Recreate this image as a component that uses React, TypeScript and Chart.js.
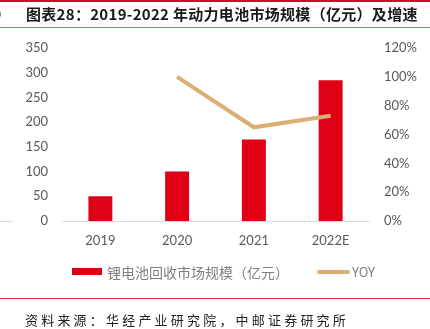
import React, { useEffect, useRef } from "react";
import { Chart, registerables } from "chart.js";

Chart.register(...registerables);

const categories = ["2019", "2020", "2021", "2022E"];
const marketSize = [50, 100, 165, 285];
const yoyPercent = [null, 100, 65, 73];
const leftMax = 350;
const leftStep = 50;
const rightMax = 120;
const rightStep = 20;

const titleText = "图表28：2019-2022 年动力电池市场规模（亿元）及增速";
const sourceText = "资料来源：华经产业研究院，中邮证券研究所";
const barLabel = "锂电池回收市场规模（亿元）";
const lineLabel = "YOY";

const RED = "#E00016";
const TAN = "#DDAE74";
const TICK = "#595959";

export default function App() {
  const ref = useRef<HTMLCanvasElement | null>(null);

  useEffect(() => {
    document.body.style.margin = "0";
    const canvas = ref.current;
    if (!canvas) return;
    const chart = new Chart(canvas, {
      type: "bar",
      data: {
        labels: categories,
        datasets: [
          {
            type: "line",
            label: lineLabel,
            data: yoyPercent,
            yAxisID: "y1",
            borderColor: TAN,
            backgroundColor: TAN,
            borderWidth: 4,
            pointRadius: 0,
            tension: 0,
            order: 0,
          } as any,
          {
            type: "bar",
            label: barLabel,
            data: marketSize,
            yAxisID: "y",
            backgroundColor: RED,
            borderWidth: 0,
            categoryPercentage: 1,
            barPercentage: 0.312,
            order: 1,
          },
        ],
      },
      options: {
        responsive: false,
        animation: false,
        devicePixelRatio: 1,
        layout: { padding: { top: 48, left: 0, right: 0, bottom: 0 } },
        plugins: {
          legend: { display: false },
          tooltip: { enabled: false },
        },
        scales: {
          x: {
            grid: { display: false, drawTicks: false },
            border: { display: true, color: "#D9D9D9", width: 1 },
            ticks: {
              color: TICK,
              font: { family: "Lato", size: 13 },
              padding: 12,
            },
            afterFit: (s: any) => {
              s.height = 108;
            },
          },
          y: {
            position: "left",
            min: 0,
            max: leftMax,
            grid: { display: false, drawTicks: false },
            border: { display: false },
            ticks: {
              stepSize: leftStep,
              color: TICK,
              font: { family: "Lato", size: 13 },
              padding: 14,
            },
            afterFit: (s: any) => {
              s.width = 62;
            },
          },
          y1: {
            position: "right",
            min: 0,
            max: rightMax,
            grid: { display: false, drawTicks: false },
            border: { display: false },
            ticks: {
              stepSize: rightStep,
              color: TICK,
              font: { family: "Lato", size: 13 },
              padding: 15,
              callback: (v: any) => v + "%",
            },
            afterFit: (s: any) => {
              s.width = 61;
            },
          },
        },
      },
    });
    return () => chart.destroy();
  }, []);

  return (
    <div style={{ position: "fixed", left: 0, top: 0, width: 430, height: 329, background: "#fff", overflow: "hidden" }}>
      <canvas ref={ref} width={430} height={329} style={{ position: "absolute", left: 0, top: 0 }} />
      <div style={{ position: "absolute", left: 0, top: 0, width: 430, height: 2, background: "#C8102E" }} />
      <div style={{ position: "absolute", left: 0, top: 27, width: 430, height: 1, background: "#E06070" }} />
      <div style={{ position: "absolute", left: -4, top: 4, font: "15px 'Noto Sans CJK SC'", color: "#222", lineHeight: "20px" }}>）</div>
      <div
        style={{
          position: "absolute",
          left: 26,
          top: 4,
          font: "bold 15px 'Noto Sans CJK SC'",
          letterSpacing: "0.3px",
          color: "#1a1a1a",
          lineHeight: "20px",
          whiteSpace: "nowrap",
        }}
      >
        {titleText}
      </div>
      <div style={{ position: "absolute", left: 0, top: 221, width: 12, height: 1, background: "#D9D9D9" }} />
      <div style={{ position: "absolute", left: 72, top: 268, width: 30, height: 7, background: RED }} />
      <div
        style={{
          position: "absolute",
          left: 107,
          top: 262,
          font: "14px 'Noto Sans CJK SC'",
          color: "#7F7F7F",
          lineHeight: "20px",
          whiteSpace: "nowrap",
        }}
      >
        {barLabel}
      </div>
      <div style={{ position: "absolute", left: 317, top: 270, width: 33, height: 4, borderRadius: 2, background: TAN }} />
      <div
        style={{
          position: "absolute",
          left: 352,
          top: 262,
          font: "13px 'Noto Sans CJK SC'",
          color: "#7F7F7F",
          lineHeight: "20px",
          whiteSpace: "nowrap",
        }}
      >
        {lineLabel}
      </div>
      <div style={{ position: "absolute", left: 0, top: 298, width: 430, height: 1, background: "#E03040" }} />
      <div
        style={{
          position: "absolute",
          left: 25,
          top: 311,
          font: "13px 'Noto Sans CJK SC'",
          letterSpacing: "3.2px",
          color: "#222",
          lineHeight: "18px",
          whiteSpace: "nowrap",
        }}
      >
        {sourceText}
      </div>
    </div>
  );
}
